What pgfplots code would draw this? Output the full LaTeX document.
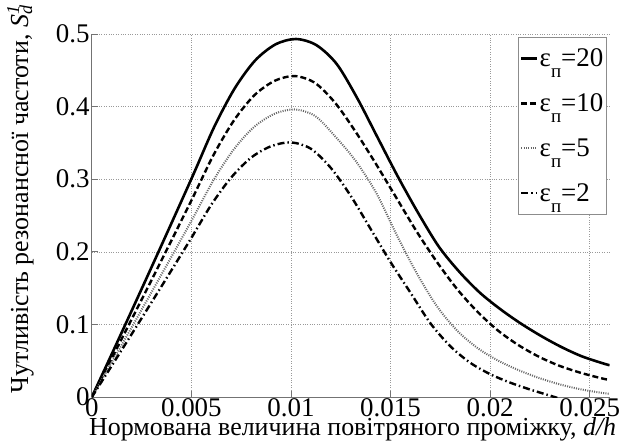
\documentclass[border=0pt]{standalone}
\usepackage{fontspec}
\setmainfont{Liberation Serif}
\usepackage{pgfplots}
\pgfplotsset{compat=1.18}

\newcommand{\ep}{ε\raisebox{-11pt}{\fontsize{19}{19}\selectfont п}}

\begin{document}
\begin{tikzpicture}
\begin{axis}[
  scale only axis,
  width=519pt, height=364pt,
  xmin=0, xmax=0.026,
  ymin=0, ymax=0.5,
  axis x line*=bottom,
  axis y line*=left,
  axis line style={black!55, line width=0.8pt},
  xtick={0,0.005,0.01,0.015,0.02,0.025},
  xticklabels={0,0.005,0.01,0.015,0.02,0.025},
  ytick={0,0.1,0.2,0.3,0.4,0.5},
  yticklabels={0,0.1,0.2,0.3,0.4,0.5},
  scaled x ticks=false,
  scaled y ticks=false,
  tick align=inside,
  major tick length=6pt,
  tick style={black!55, line width=0.8pt},
  grid=major,
  grid style={black!40, dotted, line width=0.6pt},
  /pgf/number format/assume math mode=true,
  ticklabel style={font=\fontsize{27}{29}\selectfont},
  xticklabel style={inner sep=1pt},
  yticklabel style={inner sep=2pt},
  xlabel={Нормована величина повітряного проміжку, \textit{d/h}},
  xlabel style={font=\fontsize{26}{29}\selectfont, inner sep=0pt, xshift=2pt},
  ylabel={Чутливість резонансної частоти, \textit{S}\rlap{\textsuperscript{\textit{1}}}\textsubscript{\textit{d}}},
  ylabel style={font=\fontsize{26}{29}\selectfont, at={(ticklabel cs:0.545,20pt)}, inner sep=0pt},
  legend cell align=left,
  legend style={at={(0.994,0.992)}, anchor=north east, draw=black!45,
    fill=white, font=\fontsize{27}{29}\selectfont, inner xsep=2pt, inner ysep=11pt,
    row sep=23.5pt, nodes={inner sep=1pt}},
  legend image code/.code={\draw[#1] (0pt,0pt) -- (16pt,0pt);},
]
% eps = 20
\addplot[black, line width=2.6pt, smooth, tension=0.5] coordinates {
 (0,0) (0.001025,0.0606) (0.00205,0.1218) (0.003075,0.1834) (0.0041,0.2455)
 (0.005125,0.3081) (0.00615,0.3722) (0.007175,0.425) (0.0082,0.4634)
 (0.009225,0.4856) (0.01025,0.493) (0.011275,0.4846) (0.0123,0.4585)
 (0.013325,0.4117) (0.01435,0.3574) (0.015375,0.3032) (0.0164,0.2529)
 (0.017425,0.2071) (0.01845,0.1726) (0.019475,0.144) (0.0205,0.1213)
 (0.021525,0.1016) (0.02255,0.0843) (0.023575,0.069) (0.0246,0.0562)
 (0.025625,0.0468) (0.026,0.0439)};
% eps = 10
\addplot[black, line width=2.4pt, dash pattern=on 6pt off 3pt, smooth, tension=0.5] coordinates {
 (0,0) (0.00102,0.0544) (0.00204,0.1092) (0.00306,0.1644) (0.00408,0.2201)
 (0.0051,0.2763) (0.00612,0.3337) (0.00714,0.381) (0.00816,0.4155)
 (0.00918,0.4354) (0.0102,0.442) (0.01122,0.4323) (0.01224,0.4044)
 (0.01326,0.3647) (0.01428,0.3205) (0.0153,0.274) (0.01632,0.2276)
 (0.01734,0.1856) (0.01836,0.1481) (0.01938,0.1171) (0.0204,0.0915)
 (0.02142,0.0716) (0.02244,0.0557) (0.02346,0.0433) (0.02448,0.034)
 (0.0255,0.0265) (0.02601,0.0234)};
% eps = 5
\addplot[black!60, line width=2pt, dash pattern=on 1pt off 1.3pt, smooth, tension=0.5] coordinates {
 (0,0) (0.00102,0.0487) (0.00204,0.0978) (0.00306,0.1473) (0.00408,0.1972)
 (0.0051,0.2475) (0.00612,0.299) (0.00714,0.3414) (0.00816,0.3722)
 (0.00918,0.3901) (0.0102,0.396) (0.01122,0.3869) (0.01224,0.3584)
 (0.01326,0.3247) (0.01428,0.2812) (0.0153,0.2237) (0.01632,0.1703)
 (0.01734,0.1247) (0.01836,0.0911) (0.01938,0.0673) (0.0204,0.0503)
 (0.02142,0.0372) (0.02244,0.0265) (0.02346,0.0178) (0.02448,0.0111)
 (0.0255,0.0063) (0.02601,0.0044)};
% eps = 2
\addplot[black, line width=2.4pt, dash pattern=on 7pt off 3pt on 1.5pt off 3pt, smooth, tension=0.5] coordinates {
 (0,0) (0.001,0.0431) (0.002,0.0866) (0.003,0.1305) (0.004,0.1746)
 (0.005,0.2192) (0.006,0.2648) (0.007,0.3023) (0.008,0.3297)
 (0.009,0.3454) (0.010,0.3507) (0.011,0.3419) (0.012,0.3156)
 (0.013,0.2771) (0.014,0.2315) (0.015,0.1859) (0.016,0.1438)
 (0.017,0.1017) (0.018,0.0701) (0.019,0.0473) (0.020,0.0316)
 (0.021,0.02) (0.022,0.0105) (0.023,0.0021) (0.0235,-0.0021)};
\legend{\ep=20, \ep=10, \ep=5, \ep=2}
\end{axis}
\path (-92pt,-47pt) rectangle (529pt,398pt);
\end{tikzpicture}
\end{document}
